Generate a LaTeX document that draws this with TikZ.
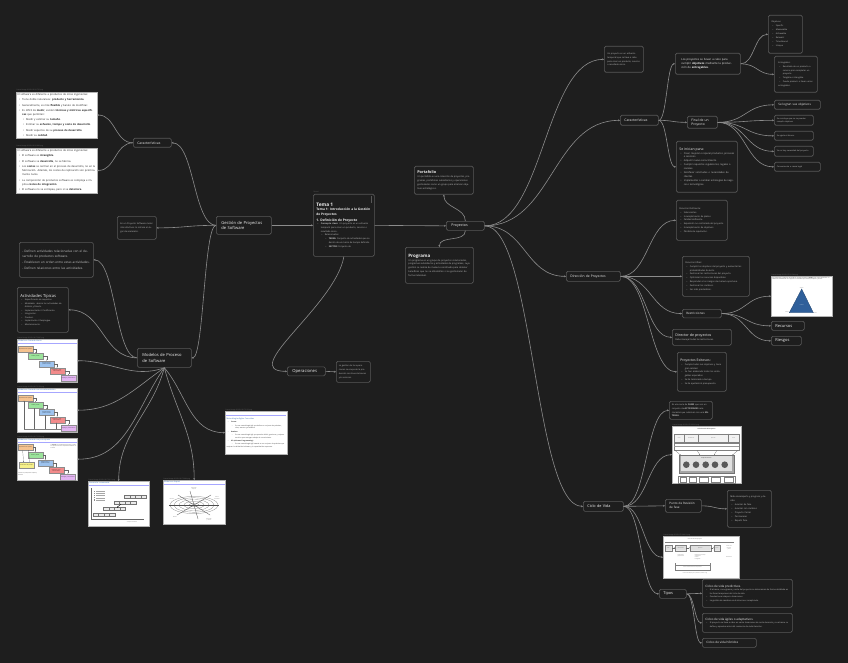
\documentclass[tikz,border=0pt]{standalone}
\usepackage{fontspec}
\setmainfont{Open Sans}
\usetikzlibrary{arrows.meta,calc,positioning}

\definecolor{bgcol}{HTML}{1E1E1E}
\definecolor{boxline}{HTML}{585858}
\definecolor{linkcol}{HTML}{8C8C8C}
\definecolor{txtcol}{HTML}{C4C4C4}
\definecolor{headcol}{HTML}{EEEEEE}
\definecolor{capcol}{HTML}{707070}
\definecolor{blueh}{HTML}{3A6FB0}
\definecolor{stgo}{HTML}{F5C28F}
\definecolor{stgg}{HTML}{9BE39B}
\definecolor{stgb}{HTML}{9DC3EE}
\definecolor{stgr}{HTML}{F28B8B}
\definecolor{stgp}{HTML}{E3B5F2}
\definecolor{stgy}{HTML}{F6F08A}
\definecolor{tblue}{HTML}{2F5F9A}

\newcommand\fs[2]{\fontsize{#1}{#2}\selectfont\spaceskip=0pt\xspaceskip=0pt\relax}
\newcommand\bul[1]{\par\hangindent=4.5pt\noindent\hspace*{1.2pt}\makebox[3.3pt][l]{\textbullet}#1}
\newcommand\subbul[1]{\par\hangindent=8.5pt\noindent\hspace*{5.2pt}\makebox[3.3pt][l]{\textbullet}#1}
\newcommand\subsubbul[1]{\par\hangindent=12.5pt\noindent\hspace*{9.2pt}\makebox[3.3pt][l]{\textbullet}#1}
\newcommand\notefont{\fs{2.6}{4.3}\setlength\parskip{0.9pt}}
\newcommand\listfont{\fs{2.4}{3.95}}
\newcommand\bodyfont{\fs{2.3}{3.95}}

\begin{document}
\begin{tikzpicture}[x=1pt,y=-1pt,
    box/.style={draw=boxline,line width=0.7pt,rounded corners=1.5pt,fill=bgcol,text=txtcol,align=left,anchor=north west,inner sep=2.5pt},
    topic/.style={box,text=headcol,inner xsep=4pt,inner ysep=1.5pt,minimum height=9pt},
    note/.style={draw=gray!60,line width=0.4pt,fill=white,text=black!85,align=left,anchor=north west,inner sep=1.5pt},
    shot/.style={draw=gray!60,line width=0.4pt,fill=white,anchor=north west,inner sep=0pt},
    capt/.style={text=capcol,font=\fs{1.6}{2},anchor=south west,inner sep=0.4pt},
    shtitle/.style={anchor=north west,inner sep=0pt,text=blueh,font=\fs{1.9}{2.2}},
    stage/.style={draw=black!45,line width=0.2pt,anchor=north west,inner sep=0.2pt,minimum width=15pt,minimum height=6pt,text width=14pt,align=center,font=\fs{1}{1.25}},
    stepar/.style={-{Stealth[length=0.9pt,width=0.9pt]},line width=0.2pt,draw=black!60},
    mini/.style={inner sep=0pt,text=black!75,font=\fs{1}{1.3},align=center},
    link/.style={draw=linkcol,line width=0.6pt,-{Stealth[length=1.8pt,width=1.8pt]}},
    branch/.style={to path={let \p1=(\tikztostart),\p2=(\tikztotarget) in .. controls ({(\x1+\x2)/2},\y1) and ({(\x1+\x2)/2},\y2) .. (\tikztotarget)}}]

\fill[bgcol] (0,0) rectangle (848,663);
\useasboundingbox (0,0) rectangle (848,663);

% rama izquierda: caracteristicas del software
\node[capt] (capA) at (16,91.6) {Pasted image 20250123101725.png};
\node[note,text width=78pt,font=\notefont] (swA) at (16,92) {El software es diferente a productos de otras ingenierías:
  \bul{Tiene doble naturaleza: \textbf{producto y herramienta}.}
  \bul{Generalmente, es más \textbf{flexible} y barato de modificar.}
  \bul{Es difícil de \textbf{medir}, existen \textbf{técnicas y métricas específicas} que permiten:}
  \subbul{Medir y estimar su \textbf{tamaño}.}
  \subbul{Estimar su \textbf{esfuerzo, tiempo y coste de desarrollo}.}
  \subbul{Medir aspectos de su \textbf{proceso de desarrollo}.}
  \subbul{Medir su \textbf{calidad}.}};
\node[capt] (capB) at (16,147.6) {Pasted image 20250123101802.png};
\node[note,text width=78pt,font=\notefont] (swB) at (16,148) {El software es diferente a productos de otras ingenierías:
  \bul{El software es \textbf{intangible}.}
  \bul{El software se \textbf{desarrolla}, no se fabrica.}
  \bul{Los \textbf{costes} se centran en el proceso de desarrollo, no en la fabricación. Además, los costes de replicación son prácticamente nulos.}
  \bul{La composición de productos software es compleja e implica \textbf{costes de integración}.}
  \bul{El software no se estropea, pero sí se \textbf{deteriora}.}};
\node[topic,text width=30pt,font=\fs{3.4}{4.2}] (carL) at (133,138) {Características};

\node[box,inner sep=3pt,text width=33pt,minimum height=23pt,font=\fs{2.2}{3.9}] (brooks) at (117,216) {En un Proyecto Software meter más efectivos lo retrasa en lugar de acelerarlo.};
\node[topic,text width=45pt,minimum height=18pt,inner xsep=5pt,font=\fs{4.1}{5.3}] (gest) at (216,216) {Gestión de Proyectos\\de Software};

% modelos de proceso
\node[box,inner sep=3pt,text width=68pt,minimum height=35pt,font=\fs{3.1}{4.5}\setlength\parskip{1.7pt}] (ordr) at (19,242) {- Definen actividades relacionadas con el desarrollo de productos software.\par
  - Establecen un orden entre estas actividades.\par
  - Definen relaciones entre las actividades.};
\node[box,inner sep=3pt,text width=45pt,minimum height=45pt,font=\fs{2.1}{3.5}] (acts) at (17,287) {{\fs{4.1}{6}\color{headcol}Actividades Típicas\par}
  {\fs{2.1}{3.5}
  \bul{Especificación de requisitos.}
  \bul{Modelado: abarca las actividades de Análisis y Diseño.}
  \bul{Implementación / Codificación.}
  \bul{Integración.}
  \bul{Pruebas.}
  \bul{Implantación / Despliegue.}
  \bul{Mantenimiento.}\par}};
\node[topic,text width=44pt,minimum height=19pt,inner xsep=5pt,font=\fs{4.1}{5.3}] (modl) at (137,348) {Modelos de Proceso\\de Software};

\node[shot,minimum width=60pt,minimum height=43pt] (casA) at (17,339) {};
\node[capt] (capC) at (casA.north west) {Pasted image 20250126172047.png};
\begin{scope}[shift={(casA.north west)}]
  \node[shtitle] (casAt) at (1,0.6) {Modelo en Cascada clásico};
  \draw[blue!35,line width=0.2pt] (0.8,4.2) -- (59.5,4.2);
  \node[stage,fill=stgo] (a1) at (1,7) {Especificación de requisitos};
  \node[stage,fill=stgg] (a2) at (11,14.3) {Análisis y Diseño};
  \node[stage,fill=stgb] (a3) at (22,21.5) {Implementación y pruebas unitarias};
  \node[stage,fill=stgr] (a4) at (32.5,28.7) {Integración y pruebas del sistema};
  \node[stage,fill=stgp] (a5) at (44,36) {Despliegue y mantenimiento};
  \draw[stepar] (a1.east) -| (a2.north);
  \draw[stepar] (a2.east) -| (a3.north);
  \draw[stepar] (a3.east) -| (a4.north);
  \draw[stepar] (a4.east) -| (a5.north);
\end{scope}

\node[shot,minimum width=60pt,minimum height=44pt] (casB) at (17,388) {};
\node[capt] (capD) at (casB.north west) {Pasted image 20250126172158.png};
\begin{scope}[shift={(casB.north west)}]
  \node[shtitle] (casBt) at (1,0.6) {Modelo en Cascada con retroalimentación};
  \draw[blue!35,line width=0.2pt] (0.8,4.2) -- (59.5,4.2);
  \node[stage,fill=stgo] (b1) at (1,6.7) {Especificación de requisitos};
  \node[stage,fill=stgg] (b2) at (11,14) {Análisis y Diseño};
  \node[stage,fill=stgb] (b3) at (22,21.3) {Implementación y pruebas unitarias};
  \node[stage,fill=stgr] (b4) at (32.5,28.6) {Integración y pruebas del sistema};
  \node[stage,fill=stgp] (b5) at (44,36.7) {Despliegue y mantenimiento};
  \draw[stepar] (b1.east) -| (b2.north);
  \draw[stepar] (b2.east) -| (b3.north);
  \draw[stepar] (b3.east) -| (b4.north);
  \draw[stepar] (b4.east) -| (b5.north);
  \draw[line width=0.2pt,black!50] (44,41) -- (7,41);
  \draw[stepar] (7,41) -- (7,12.7);
  \draw[stepar] (17.5,41) -- (17.5,20);
  \draw[stepar] (28.5,41) -- (28.5,27.3);
  \draw[stepar] (39.5,41) -- (39.5,34.6);
\end{scope}

\node[shot,minimum width=60pt,minimum height=42pt] (casC) at (17,438) {};
\node[capt] (capE) at (casC.north west) {Pasted image 20250126172254.png};
\begin{scope}[shift={(casC.north west)}]
  \node[shtitle] (casCt) at (1,0.6) {Modelo en Cascada con prototipado};
  \draw[blue!35,line width=0.2pt] (0.8,4.2) -- (59.5,4.2);
  \node[stage,fill=stgo] (c1) at (1,5.7) {Especificación de requisitos};
  \node[stage,fill=stgy] (c0) at (2,24) {Construcción del prototipo};
  \node[stage,fill=stgg] (c2) at (10.7,14) {Análisis y Diseño};
  \node[stage,fill=stgb] (c3) at (20.7,21.7) {Implementación y pruebas unitarias};
  \node[stage,fill=stgr] (c4) at (31.7,29.3) {Integración y pruebas del sistema};
  \node[stage,fill=stgp] (c5) at (43.3,35.7) {Despliegue y mantenimiento};
  \draw[stepar] (c1.east) -| (c2.north);
  \draw[stepar] (c2.east) -| (c3.north);
  \draw[stepar] (c3.east) -| (c4.north);
  \draw[stepar] (c4.east) -| (c5.north);
  \draw[stepar] ([xshift=-3pt]c1.south) -- ([xshift=-3pt]c0.north);
  \draw[stepar] ([xshift=3pt]c0.north) -- ([xshift=3pt]c1.south);
  \node[anchor=north west,inner sep=0pt,text width=26pt,align=left,font=\fs{1}{1.4}] (c6) at (33.5,6.5) {La \textbf{cascada} con prototipado permite aclarar y validar los requisitos antes de su especificación definitiva con el cliente.};
  \node[anchor=north west,inner sep=0pt,text width=20pt,align=left,font=\fs{1}{1.4}] (c7) at (1,35) {Cascada con prototipado de requisitos y desarrollo};
\end{scope}

\node[shot,minimum width=61pt,minimum height=45pt] (incr) at (88,481) {};
\node[capt] (capF) at (incr.north west) {Pasted image 20250126172911.png};
\begin{scope}[shift={(incr.north west)}]
  \node[shtitle] (incrt) at (1,0.6) {Desarrollo incremental};
  \draw[blue!35,line width=0.2pt] (0.8,4.2) -- (60.5,4.2);
  \draw[line width=0.25pt,black!60] (3.3,7) -- (3.3,38.3) -- (56,38.3);
  \foreach \i in {0,...,4} {
    \fill[black!45] (6,{9.5+2.2*\i}) rectangle +(1.2,1.2);
    \draw[black!35,line width=0.15pt] (8,{10.1+2.2*\i}) -- +(9,0);
  }
  \foreach \i in {0,1,2,3} {
    \draw[black!55,line width=0.2pt,fill=black!8] ({5+10.5*\i},{32-6*\i}) rectangle +(22,3.2);
    \foreach \j in {1,2,3}
      \draw[black!55,line width=0.2pt] ({5+10.5*\i+5.5*\j},{32-6*\i}) -- +(0,3.2);
  }
  \draw[-{Stealth[length=1.2pt,width=1.2pt]},line width=0.35pt] (33,23) -- (29,26.5);
  \node[mini] (incrx) at (44,41.5) {Tiempo de calendario};
\end{scope}

\node[shot,minimum width=62pt,minimum height=44pt] (espi) at (163,480) {};
\node[capt] (capG) at (espi.north west) {Pasted image 20250126173004.png};
\begin{scope}[shift={(espi.north west)}]
  \node[shtitle] (espit) at (1,0.6) {Modelo en Espiral};
  \draw[blue!35,line width=0.2pt] (0.8,4.2) -- (61.5,4.2);
  \draw[black!55,line width=0.2pt] (31,25) ellipse (5pt and 1.8pt);
  \draw[black!55,line width=0.2pt] (31,25) ellipse (10pt and 3.6pt);
  \draw[black!55,line width=0.2pt] (31,25) ellipse (15pt and 5.4pt);
  \draw[black!55,line width=0.2pt] (31,25) ellipse (20pt and 7.2pt);
  \draw[black!55,line width=0.2pt] (31,25) ellipse (24pt and 8.6pt);
  \draw[black!70,line width=0.3pt] (6,25) -- (56,25);
  \draw[black!70,line width=0.3pt] (27,11) -- (35,39);
  \draw[black!70,line width=0.3pt] (15,15) -- (47,35);
  \draw[black!70,line width=0.3pt] (48,15) -- (14,35);
  \node[mini] (espa) at (31,9) {Determinar\\objetivos};
  \node[mini] (espb) at (54,18) {Evaluar\\alternativas};
  \node[mini] (espc) at (9,19) {Planificar};
  \node[mini] (espd) at (46,40) {Desarrollar\\y verificar};
  \node[mini] (espe) at (12,37) {Revisión};
\end{scope}

\node[note,text width=59pt,minimum height=43pt,font=\fs{1.6}{2.7}\setlength\parskip{0.6pt}] (agiles) at (225,411) {{\color{blueh}\fs{1.9}{3.2}Metodologías Ágiles Conocidas\par}
  \bul{\textbf{Scrum:}}
  \subbul{Es una metodología ágil que define un conjunto de prácticas, roles, eventos y artefactos.}
  \bul{\textbf{Kanban:}}
  \subbul{Es una metodología ágil que permite definir, gestionar y mejorar servicios que entregan trabajo de conocimiento.}
  \bul{\textbf{XP (eXtreme Programming):}}
  \subbul{Es una metodología ágil basada en un conjunto de prácticas que mejoran la calidad del software y la capacidad de respuesta.}};
\node[capt] (capH) at (agiles.north west) {Pasted image 20250126173122.png};
\draw[blue!35,line width=0.2pt] (226,414.8) -- (286,414.8);

% centro: tema 1, operaciones, proyectos
\node[capt] (capT) at (313,193.6) {Tema 1};
\node[box,inner sep=3pt,text width=55pt,minimum height=62pt,font=\fs{2.2}{3.7}] (tema) at (313,194) {{\fs{4.8}{7}\bfseries\color{headcol}Tema 1\par}
  {\fs{3.2}{4.3}\bfseries\color{headcol}Tema 1: Introducción a la Gestión de Proyectos\par}
  {\fs{3.3}{6}\bfseries\color{headcol}1. Definición de Proyecto\par}
  {\fs{2.2}{3.7}
  \bul{\textbf{Concepto clave:} Un proyecto es un esfuerzo temporal para crear un producto, servicio o resultado único.}
  \subbul{Relacionados:}
  \subsubbul{\textbf{TAREA:} Conjunto de actividades que se dentro de un marco de tiempo definido.}
  \subsubbul{\textbf{SECTOR:} Conjunto de}\par}};
\draw[boxline,line width=0.9pt] (371.5,196.5) -- (371.5,203);

\node[topic,text width=28pt,inner xsep=5pt,font=\fs{4.2}{5}] (oper) at (287,366.5) {Operaciones};
\node[box,text width=29pt,minimum height=21pt,font=\fs{2.1}{3.8}] (opdef) at (336,361) {La gestión de las operaciones se ocupa de la producción continua de bienes y/o servicios.};

\node[box,inner sep=3pt,text width=53pt,minimum height=28pt,font=\bodyfont] (port) at (414,166) {{\fs{3.8}{5.6}\bfseries\color{headcol}Portafolio\par}
  {\bodyfont Un portafolio es una colección de proyectos, programas, portafolios subsidiarios y operaciones gestionados como un grupo para alcanzar objetivos estratégicos.\par}};
\node[topic,text width=28pt,inner xsep=5pt,font=\fs{3.6}{4.4}] (proj) at (446,221) {Proyectos};
\node[box,inner sep=3pt,text width=62pt,minimum height=36pt,font=\bodyfont] (prog) at (405,247) {{\fs{4.5}{7}\bfseries\color{headcol}Programa\par}
  {\bodyfont Un programa es un grupo de proyectos relacionados, programas subsidiarios y actividades de programas, cuya gestión se realiza de manera coordinada para obtener beneficios que no se obtendrían si se gestionaran de forma individual.\par}};

% derecha: caracteristicas del proyecto
\node[box,inner sep=3pt,text width=33pt,minimum height=26pt,font=\fs{2.15}{3.8}] (pdef) at (604,46) {Un proyecto es un esfuerzo temporal que se lleva a cabo para crear un producto, servicio o resultado único.};
\node[topic,text width=30pt,minimum height=10pt,font=\fs{3.4}{4.2}] (car2) at (620,115) {Características};
\node[box,inner xsep=6pt,inner ysep=3pt,text width=53pt,minimum height=21pt,text=headcol,font=\fs{2.75}{4.2}] (intro) at (675,53) {Los proyectos se llevan a cabo para cumplir \textbf{objetivos} mediante la producción de \textbf{entregables}.};
\node[box,inner sep=3pt,text width=28pt,minimum height=38pt,font=\fs{2.1}{4}] (objt) at (768,15) {Objetivos:
  \bul{Specific}
  \bul{Measurable}
  \bul{Achievable}
  \bul{Relevant}
  \bul{Time-Bound}
  \bul{Unique}};
\node[box,inner xsep=4pt,inner ysep=3pt,text width=35pt,minimum height=36pt,font=\fs{2.1}{3.8}] (entr) at (774,56) {Entregables:
  \bul{Resultado de un producto o servicio para completar un proyecto.}
  \bul{Tangible o intangible.}
  \bul{Puede producir o llevar varios entregables.}};
\node[topic,text width=22pt,minimum height=12pt,font=\fs{3.3}{4.1}] (fin) at (687,116) {Final de un\\Proyecto};
\node[topic,text width=38pt,font=\fs{3}{3.8}] (finA) at (774,100) {Se logran sus objetivos};
\node[box,text width=34pt,minimum height=10pt,inner ysep=1.5pt,font=\fs{2}{3.1}] (finB) at (774,115) {Se concluye que no se pueden cumplir objetivos};
\node[box,text width=34pt,minimum height=9pt,font=\fs{2}{3.1}] (finC) at (774,131) {Se agota el dinero.};
\node[box,text width=34pt,minimum height=10pt,inner ysep=1.5pt,font=\fs{2}{3.1}] (finD) at (774,146) {Ya no hay necesidad del proyecto};
\node[box,text width=41pt,minimum height=9pt,font=\fs{2}{3.1}] (finE) at (774,162) {Conveniencia o causa legal};
\node[box,inner sep=3pt,text width=55pt,minimum height=51pt,font=\listfont] (inic) at (676,141) {{\fs{3.5}{6}\color{headcol}Se inician para:\par}
  {\listfont
  \bul{Crear, mejorar o reparar productos, procesos o servicios.}
  \bul{Adquirir nuevo conocimiento.}
  \bul{Cumplir requisitos regulatorios, legales o sociales.}
  \bul{Satisfacer solicitudes o necesidades de clientes.}
  \bul{Implementar o cambiar estrategias de negocio o tecnológicas.}\par}};

% derecha: direccion de proyectos
\node[topic,text width=46pt,minimum height=10pt,font=\fs{3.3}{4.2}] (dirp) at (566,271) {Dirección de Proyectos};
\node[box,inner sep=3pt,text width=45pt,minimum height=40pt,font=\fs{2.2}{3.9}] (defi) at (676,200) {Dirección Deficiente:
  \bul{Sobrecostes.}
  \bul{Incumplimiento de plazos.}
  \bul{Calidad deficiente.}
  \bul{Expansión no controlada del proyecto.}
  \bul{Incumplimiento de objetivos.}
  \bul{Pérdida de reputación.}};
\node[box,inner sep=3pt,text width=61pt,minimum height=40pt,font=\fs{2.2}{3.9}] (efic) at (682,256) {Dirección Eficaz:
  \bul{Cumplir los objetivos del proyecto y aumentar las probabilidades de éxito.}
  \bul{Gestionar las restricciones del proyecto.}
  \bul{Optimizar los recursos disponibles.}
  \bul{Responder a los riesgos de manera oportuna.}
  \bul{Gestionar los cambios.}
  \bul{Ser más predecibles.}};
\node[topic,text width=31pt,minimum height=8.5pt,inner ysep=1pt,font=\fs{3}{3.8}] (restr) at (682,309) {Restricciones};
\node[shot,minimum width=61pt,minimum height=40pt] (tri) at (771,276) {};
\node[capt] (capI) at (tri.north west) {Pasted image 20250127101544.png};
\begin{scope}[shift={(tri.north west)}]
  \node[anchor=north west,inner sep=0pt,text width=59pt,align=left,font=\fs{1.15}{1.9}] (tritx) at (1,1) {Las restricciones se gestionan del modelo de la triple restricción o \textbf{calidad}, como cuatro restricciones. La calidad del resultado final de un proyecto se ve limitada por el alcance, los plazos y el coste.};
  \fill[tblue,draw=tblue!70!black,line width=0.3pt] (30.7,13) -- (18.3,36.7) -- (42.3,36.7) -- cycle;
  \node[mini,text=white] (trical) at (30.7,29) {Calidad};
  \node[mini,anchor=south] (trialc) at (30.7,12.6) {Alcance};
  \node[mini,anchor=east] (tritie) at (18,36.7) {Tiempo};
  \node[mini,anchor=west] (tricos) at (43,36.7) {Coste};
\end{scope}
\node[topic,text width=25pt,font=\fs{4}{4.6}] (recur) at (771,321) {Recursos};
\node[topic,text width=22pt,font=\fs{4}{4.6}] (riesg) at (771,336) {Riesgos};
\node[box,inner sep=3pt,text width=53pt,minimum height=16pt,font=\fs{2.2}{3.9}] (direc) at (672,329) {{\fs{3.6}{5}\color{headcol}Director de proyectos\par}
  {\fs{2.2}{3.9}Debe manejar todas las restricciones.\par}};
\node[box,inner sep=3pt,text width=43pt,minimum height=39pt,font=\fs{2.2}{3.75}] (exit) at (677,352) {{\fs{3.4}{5.6}\color{headcol}Proyectos Exitosos:\par}
  {\fs{2.2}{3.75}
  \bul{Cumple todos sus objetivos y tiene gran calidad.}
  \bul{Se han elaborado todos los entregables esperados.}
  \bul{Se ha terminado a tiempo.}
  \bul{Se ha ajustado al presupuesto.}\par}};

% derecha: ciclo de vida
\node[box,text width=38pt,minimum height=18pt,font=\fs{2.15}{3.7}] (serie) at (669,401) {Es una serie de \textbf{FASES} que son un conjunto de \textbf{ACTIVIDADES} relacionadas que culminan con una \textbf{ENTREGA}.};
\node[shot,minimum width=69pt,minimum height=57pt] (cvA) at (672,426) {};
\node[capt] (capJ) at (cvA.north west) {Pasted image 20250127103310.png};
\begin{scope}[shift={(cvA.north west)}]
  \node[mini,font=\fs{1.4}{1.6}\bfseries] (cvAt) at (34.5,2.9) {Ciclo de Vida del Proyecto};
  \draw[black!50,line width=0.2pt,fill=black!5] (2,7.7) rectangle (67,16);
  \draw[black!50,line width=0.2pt] (12.4,7.7) -- (12.4,16) (26.3,7.7) -- (26.3,16) (56.4,7.7) -- (56.4,16);
  \node[mini] (cva1) at (7.2,12) {Inicio};
  \node[mini] (cva2) at (19.3,12) {Planificación};
  \node[mini] (cva3) at (41.3,12) {Ejecución};
  \node[mini] (cva4) at (61.7,12) {Cierre};
  \draw[black!50,line width=0.2pt] (2,16.7) rectangle (67,24.3);
  \draw[black!40,line width=0.2pt] (2,20.5) -- (67,20.5);
  \draw[stepar] (3,24.3) -- (8.5,29);
  \draw[stepar] (66,24.3) -- (60.5,29);
  \draw[stepar] (25,24.3) -- (28,29);
  \draw[stepar] (45,24.3) -- (42,29);
  \draw[black!55,fill=black!35,line width=0.2pt] (7,28.7) rectangle (61.7,46.7);
  \fill[black!12] (8.5,30) rectangle (60.2,45.3);
  \node[mini,font=\fs{1.1}{1.3}\bfseries] (cvag) at (34.3,32) {Grupo de Procesos};
  \fill[black!65] (14.3,38.7) circle (3.3pt) (24,38.7) circle (3.3pt) (33.7,38.7) circle (3.3pt) (43,38.7) circle (3.3pt) (52.7,38.7) circle (3.3pt);
  \draw[black!50,line width=0.2pt] (6.3,50.3) rectangle (62.7,56.7);
  \draw[black!50,line width=0.2pt] (8,51.3) rectangle (14,55.7) (17,51.3) rectangle (24,55.7) (27,51.3) rectangle (36,55.7) (39,51.3) rectangle (48,55.7) (52,51.3) rectangle (61,55.7);
\end{scope}
\node[topic,text width=32pt,minimum height=10pt,font=\fs{3.8}{4.6}] (cv) at (583,501) {Ciclo de Vida};
\node[topic,text width=28pt,minimum height=13pt,font=\fs{3}{4}] (punto) at (665,499) {Punto de Revisión\\de fase};
\node[box,inner sep=3pt,text width=38pt,minimum height=37pt,font=\fs{2.2}{3.9}] (mide) at (727,490) {Mide desempeño y progreso y decide:
  \bul{Avanzar de fase}
  \bul{Avanzar con cambios}
  \bul{Proyecto Cerrar}
  \bul{Permanecer}
  \bul{Repetir fase}};
\node[shot,minimum width=76pt,minimum height=42pt] (cvB) at (663,536) {};
\node[capt] (capK) at (cvB.north west) {Pasted image 20250127104012.png};
\begin{scope}[shift={(cvB.north west)}]
  \node[mini,font=\fs{1.2}{1.4}] (cvBt) at (32,3.2) {Ciclo de vida del proyecto};
  \draw[black!50,line width=0.2pt] (2,7) -- (2,5.6) -- (70,5.6) -- (70,7);
  \draw[black!50,line width=0.2pt,fill=black!12] (2,9) rectangle (8.7,14.7) (12.3,9) rectangle (23.3,14.7) (26.7,9) rectangle (47.7,14.7) (50.7,9) rectangle (57.3,14.7);
  \node[mini] (cvb1) at (5.35,11.85) {Inicio};
  \node[mini] (cvb2) at (17.8,11.85) {Planificación};
  \node[mini] (cvb3) at (37.2,11.85) {Ejecución};
  \node[mini] (cvb4) at (54,11.85) {Cierre};
  \draw[stepar] (8.7,11.85) -- (12.3,11.85);
  \draw[stepar] (23.3,11.85) -- (26.7,11.85);
  \draw[stepar] (47.7,11.85) -- (50.7,11.85);
  \node[mini,align=left] (cvb5) at (17.8,20) {Organización\\y preparación};
  \node[mini,align=left] (cvb6) at (37.2,21) {Realización del trabajo\\Seguimiento\\Control\\Entregables};
  \node[mini] (cvb7) at (66,12) {Gestión del\\proyecto\\y cierre};
  \node[mini] (cvb8) at (66,21) {Documentos};
  \draw[black!50,line width=0.2pt] (11.7,27.3) -- (11.7,29.3) (47.3,27.3) -- (47.3,29.3);
  \draw[black!50,line width=0.2pt] (11.7,29.3) rectangle (47.3,33.7);
  \node[mini] (cvb9) at (29.5,31.5) {Ciclo de vida del desarrollo del producto};
  \node[mini] (cvb10) at (32,37.2) {Ciclo de vida del proyecto: predictivo, iterativo o ágil};
\end{scope}
\node[topic,text width=19pt,font=\fs{3.9}{4.6}] (tipos) at (659,589) {Tipos};
\node[box,inner sep=3pt,text width=84pt,minimum height=28pt,font=\fs{2.05}{3.6}] (pred) at (702,579) {{\fs{3}{5}\color{headcol}Ciclos de vida predictivos.\par}
  {\fs{2.05}{3.6}
  \bul{El alcance, cronograma y coste del proyecto se determinan de forma detallada en las fases tempranas del ciclo de vida.}
  \bul{Pueden tener etapas o iteraciones.}
  \bul{La gestión de cambios en el alcance es complicada.}\par}};
\node[box,inner sep=3pt,text width=84pt,minimum height=19pt,font=\fs{2.05}{3.6}] (agil) at (702,613) {{\fs{3}{5}\color{headcol}Ciclos de vida ágiles o adaptativos.\par}
  {\fs{2.05}{3.6}
  \bul{El proyecto se lleva a cabo en varias iteraciones de corta duración y su alcance se define y aprueba antes del comienzo de cada iteración.}\par}};
\node[topic,text width=46pt,font=\fs{3}{3.8}] (hibr) at (702,638) {Ciclos de vida híbridos};

% conexiones
\draw[link] (gest.west) to[branch] (carL.east);
\draw[link] (carL.west) to[branch] (swA.east);
\draw[link] (carL.west) to[branch] (swB.east);
\draw[link] (gest.west) to[branch] (brooks.east);
\draw[link] (gest.west) to[branch] (modl.east);
\draw[link] (modl.west) to[branch] (ordr.east);
\draw[link] (modl.west) to[branch] (acts.east);
\draw[link] (modl.south) to[out=200,in=0] (casA.east);
\draw[link] (modl.south) to[out=215,in=0] (casB.east);
\draw[link] (modl.south) to[out=235,in=0] (casC.east);
\draw[link] (modl.south) to[out=-105,in=90] (incr.north);
\draw[link] (modl.south) to[out=-75,in=90] (espi.north);
\draw[link] (modl.south) to[out=-50,in=180] (agiles.west);

\draw[link] (gest.east) -- (tema.west);
\draw[link] (tema.east) -- (proj.west);
\draw[link] (tema.south) to[out=-100,in=180] (oper.west);
\draw[link] (oper.east) -- (opdef.west);
\draw[link] (proj.north) to[out=90,in=-90] (port.south);
\draw[link] (proj.south) to[out=-90,in=90] (prog.north);

\draw[link] (proj.east) to[branch] (pdef.west);
\draw[link] (proj.east) to[branch] (car2.west);
\draw[link] (proj.east) to[branch] (dirp.west);
\draw[link] (proj.east) to[branch] (cv.west);

\draw[link] (car2.east) to[branch] (intro.west);
\draw[link] (car2.east) to[branch] (fin.west);
\draw[link] (car2.east) to[branch] (inic.west);
\draw[link] (intro.east) to[branch] (objt.west);
\draw[link] (intro.east) to[branch] (entr.west);
\draw[link] (fin.east) to[branch] (finA.west);
\draw[link] (fin.east) to[branch] (finB.west);
\draw[link] (fin.east) to[branch] (finC.west);
\draw[link] (fin.east) to[branch] (finD.west);
\draw[link] (fin.east) to[branch] (finE.west);

\draw[link] (dirp.east) to[branch] (defi.west);
\draw[link] (dirp.east) to[branch] (efic.west);
\draw[link] (dirp.east) to[branch] (restr.west);
\draw[link] (dirp.east) to[branch] (direc.west);
\draw[link] (dirp.east) to[branch] (exit.west);
\draw[link] (restr.east) to[branch] (tri.west);
\draw[link] (restr.east) to[branch] (recur.west);
\draw[link] (restr.east) to[branch] (riesg.west);

\draw[link] (cv.east) to[branch] (serie.west);
\draw[link] (cv.east) to[branch] (cvA.west);
\draw[link] (cv.east) to[branch] (punto.west);
\draw[link] (cv.east) to[branch] (cvB.west);
\draw[link] (cv.east) to[branch] (tipos.west);
\draw[link] (punto.east) to[branch] (mide.west);
\draw[link] (tipos.east) to[branch] (pred.west);
\draw[link] (tipos.east) to[branch] (agil.west);
\draw[link] (tipos.east) to[branch] (hibr.west);
\end{tikzpicture}
\end{document}
